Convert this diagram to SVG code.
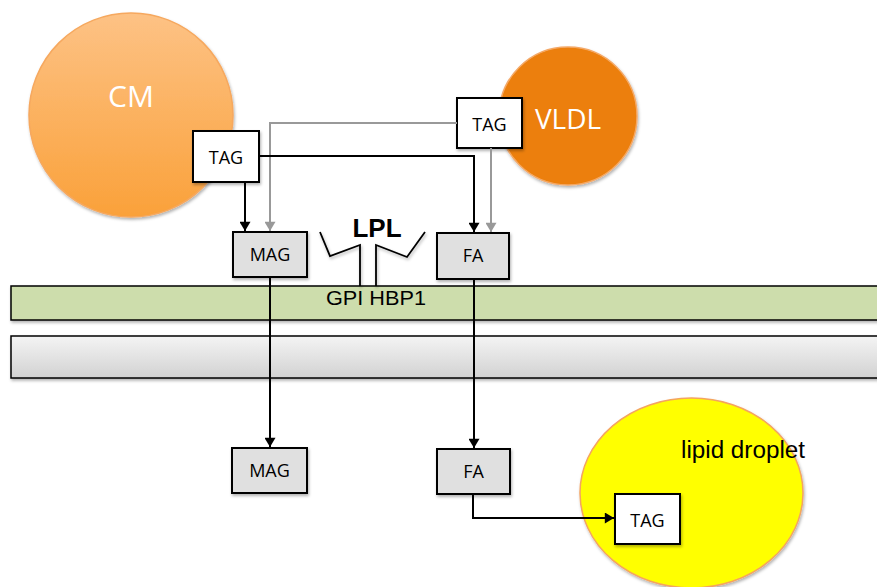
<svg xmlns="http://www.w3.org/2000/svg" width="877" height="587" viewBox="0 0 877 587">
<defs>
<linearGradient id="cmGrad" x1="0" y1="0" x2="0" y2="1">
<stop offset="0" stop-color="#FDC285"/>
<stop offset="1" stop-color="#FAA13A"/>
</linearGradient>
<linearGradient id="grayGrad" x1="0" y1="0" x2="0" y2="1">
<stop offset="0" stop-color="#F4F4F4"/>
<stop offset="1" stop-color="#D2D2D2"/>
</linearGradient>
<filter id="sh" x="-10%" y="-10%" width="130%" height="140%">
<feDropShadow dx="1" dy="2" stdDeviation="1.5" flood-color="#000" flood-opacity="0.3"/>
</filter>
<marker id="ab" viewBox="0 0 10 12" refX="10" refY="6" markerWidth="11" markerHeight="11" markerUnits="userSpaceOnUse" orient="auto">
<path d="M0,0 L10,6 L0,12 z" fill="#000"/>
</marker>
<marker id="ag" viewBox="0 0 10 12" refX="10" refY="6" markerWidth="11" markerHeight="11" markerUnits="userSpaceOnUse" orient="auto">
<path d="M0,0 L10,6 L0,12 z" fill="#999"/>
</marker>
<style>
.box{stroke:#000;stroke-width:2;filter:url(#sh)}
.white{fill:#fff}
.grey{fill:#E0E0E0}
.lbl{font-family:"Open Sans","Liberation Sans",sans-serif;font-size:18px;fill:#000;text-anchor:middle}
.big{font-family:"Open Sans","Liberation Sans",sans-serif;fill:#fff;text-anchor:middle}
.arial{font-family:"Liberation Sans",Arial,sans-serif;fill:#000}
.blk{fill:none;stroke:#000;stroke-width:2}
.gry{fill:none;stroke:#999;stroke-width:2}
</style>
</defs>
<rect width="877" height="587" fill="#fff"/>

<g id="membrane-outer">
<rect x="11" y="286" width="880" height="34" fill="#CDDDAC" stroke="#000" stroke-width="1.5" filter="url(#sh)"/>
<text class="arial" x="376" y="305" font-size="21" text-anchor="middle" textLength="100" lengthAdjust="spacingAndGlyphs">GPI HBP1</text>
</g>
<g id="membrane-inner">
<rect x="11" y="336" width="880" height="42" fill="url(#grayGrad)" stroke="#000" stroke-width="1.5" filter="url(#sh)"/>
</g>

<g id="cm">
<circle cx="131" cy="115" r="102" fill="url(#cmGrad)" stroke="#F6A85E" stroke-width="1.5" filter="url(#sh)"/>
<text class="big" x="131" y="107" font-size="30">CM</text>
</g>
<g id="vldl">
<circle cx="568" cy="116" r="69" fill="#EC7F08" stroke="#F4A866" stroke-width="1.5" filter="url(#sh)"/>
<text class="big" x="568" y="129" font-size="28">VLDL</text>
</g>
<g id="lipid-droplet">
<ellipse cx="691.5" cy="493" rx="111.5" ry="95" fill="#FFFF00" stroke="#F4A460" stroke-width="1.5" filter="url(#sh)"/>
<text class="arial" x="681" y="458" font-size="23" textLength="124" lengthAdjust="spacingAndGlyphs">lipid droplet</text>
</g>

<g id="cm-tag">
<rect class="box white" x="193" y="131" width="66" height="51"/>
<text class="lbl" x="226" y="164">TAG</text>
</g>
<g id="vldl-tag">
<rect class="box white" x="457" y="98" width="65" height="50"/>
<text class="lbl" x="489.5" y="131">TAG</text>
</g>
<g id="mag-top">
<rect class="box grey" x="233" y="232" width="74" height="45"/>
<text class="lbl" x="270" y="261">MAG</text>
</g>
<g id="fa-top">
<rect class="box grey" x="437" y="233" width="72" height="46"/>
<text class="lbl" x="473" y="262">FA</text>
</g>
<g id="lpl">
<polyline points="320,232 330,256 360,245 360,286" fill="none" stroke="#000" stroke-width="1.8" filter="url(#sh)"/>
<polyline points="376,286 376,245 407,257 425,232" fill="none" stroke="#000" stroke-width="1.8" filter="url(#sh)"/>
<text x="377" y="237" font-family="Liberation Sans, Arial, sans-serif" font-weight="bold" font-size="26" text-anchor="middle">LPL</text>
</g>
<g id="mag-bottom">
<rect class="box grey" x="232" y="448" width="75" height="45"/>
<text class="lbl" x="269.5" y="477">MAG</text>
</g>
<g id="fa-bottom">
<rect class="box grey" x="437" y="449" width="73" height="45"/>
<text class="lbl" x="473.5" y="478">FA</text>
</g>
<g id="droplet-tag">
<rect class="box white" x="615" y="494" width="65" height="50"/>
<text class="lbl" x="647.5" y="527">TAG</text>
</g>

<g id="connectors">
<polyline class="gry" points="457,123 270,123 270,231" marker-end="url(#ag)"/>
<polyline class="gry" points="491,148 491,232" marker-end="url(#ag)"/>
<polyline class="blk" points="245,182 245,231" marker-end="url(#ab)"/>
<polyline class="blk" points="259,156 474,156 474,232" marker-end="url(#ab)"/>
<polyline class="blk" points="270,277 270,447" marker-end="url(#ab)"/>
<polyline class="blk" points="474,279 474,448" marker-end="url(#ab)"/>
<polyline class="blk" points="473,494 473,518 614,518" marker-end="url(#ab)"/>
</g>
</svg>
